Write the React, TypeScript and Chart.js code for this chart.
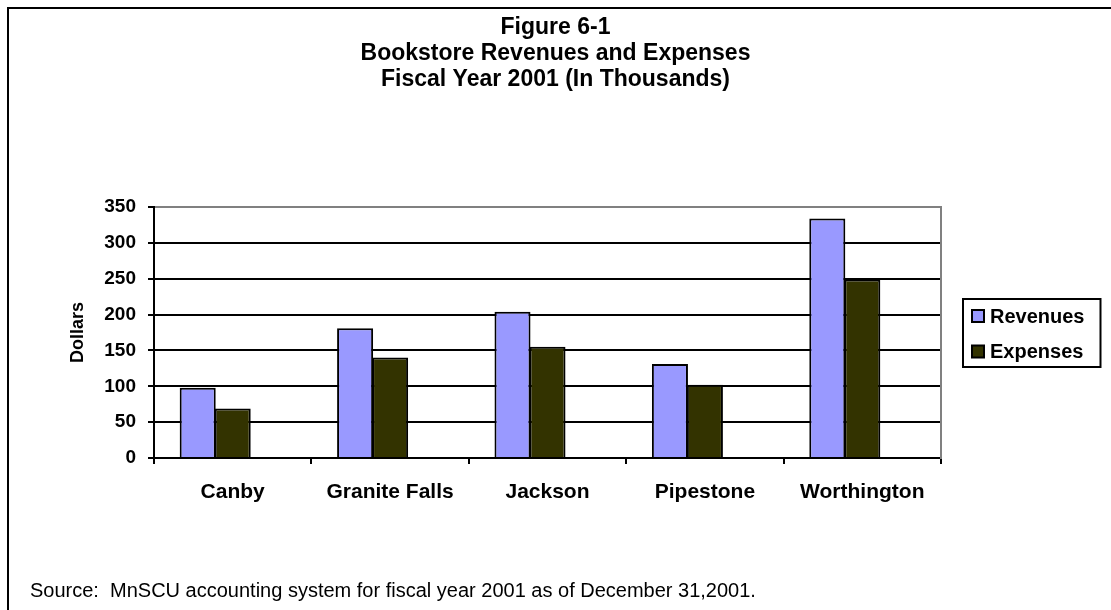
import React, { useEffect, useRef } from "react";
import { Chart, registerables } from "chart.js";

Chart.register(...registerables);

const TITLE_LINES = ["Figure 6-1", "Bookstore Revenues and Expenses", "Fiscal Year 2001 (In Thousands)"];
const CATEGORIES = ["Canby", "Granite Falls", "Jackson", "Pipestone", "Worthington"];
const REVENUES = [98, 181, 204, 131, 334];
const EXPENSES = [69, 140, 155, 102, 249];
const SERIES_NAMES = ["Revenues", "Expenses"];
const SERIES_COLORS = ["#9999FF", "#333300"];
const Y_TICKS = [0, 50, 100, 150, 200, 250, 300, 350];
const Y_TITLE = "Dollars";
const SOURCE = "Source:  MnSCU accounting system for fiscal year 2001 as of December 31,2001.";

const FONT = "'Liberation Sans', Arial, sans-serif";
Chart.defaults.font.family = FONT;
Chart.defaults.color = "#000";

const boxedLegend = {
  id: "boxedLegend",
  afterDraw(chart: any) {
    const { ctx, chartArea } = chart;
    const items = chart.data.datasets.filter((d: any) => !d.spacer);
    ctx.save();
    ctx.font = `bold 20px ${FONT}`;
    const textW = Math.max(...items.map((d: any) => ctx.measureText(d.label).width));
    const left = chartArea.right + 22;
    const height = 68;
    const top = Math.round((chartArea.top + chartArea.bottom) / 2 - height / 2);
    const width = 27 + textW + 16;
    ctx.lineWidth = 2;
    ctx.strokeStyle = "#000";
    ctx.strokeRect(left, top, width, height);
    items.forEach((d: any, i: number) => {
      const cy = top + 17 + i * 35.5;
      ctx.fillStyle = d.backgroundColor;
      ctx.fillRect(left + 9, cy - 6, 12, 12);
      ctx.strokeRect(left + 9, cy - 6, 12, 12);
      ctx.fillStyle = "#000";
      ctx.textBaseline = "middle";
      ctx.textAlign = "left";
      ctx.fillText(d.label, left + 27, cy + 1);
    });
    ctx.restore();
  },
};

export default function App() {
  const ref = useRef<HTMLCanvasElement>(null);
  useEffect(() => {
    const datasets: any[] = [REVENUES, EXPENSES].map((data, i) => ({
      label: SERIES_NAMES[i],
      data,
      backgroundColor: SERIES_COLORS[i],
      borderColor: "#000",
      borderWidth: 2,
      categoryPercentage: 0.667,
      barPercentage: 1.03,
    }));
    datasets.push({
      label: "",
      spacer: true,
      data: CATEGORIES.map(() => null),
      backgroundColor: "rgba(0,0,0,0)",
      borderWidth: 0,
      categoryPercentage: 0.667,
      barPercentage: 1.03,
    });
    const chart = new Chart(ref.current as HTMLCanvasElement, {
      type: "bar",
      data: { labels: CATEGORIES, datasets },
      plugins: [boxedLegend],
      options: {
        responsive: false,
        animation: false,
        layout: { padding: { left: 30, right: 30, top: 0, bottom: 0 } },
        plugins: {
          legend: { display: false },
          tooltip: { enabled: false },
          title: {
            display: true,
            text: TITLE_LINES,
            color: "#000",
            font: { family: FONT, size: 23, weight: "bold", lineHeight: 1.13 },
            padding: { top: 15, bottom: 207 - 15 - 3 * 23 * 1.13 },
          },
          subtitle: {
            display: true,
            position: "bottom",
            align: "start",
            text: SOURCE,
            color: "#000",
            font: { family: FONT, size: 20, weight: "normal", lineHeight: 1.2 },
            padding: { top: 60, bottom: 7 },
          },
        },
        scales: {
          x: {
            type: "category",
            offset: true,
            grid: {
              display: true,
              drawOnChartArea: false,
              drawTicks: true,
              tickLength: 6,
              color: "#000",
              lineWidth: 2,
              offset: true,
            },
            border: { display: true, color: "#000", width: 2 },
            ticks: {
              font: { family: FONT, size: 21, weight: "bold" },
              color: "#000",
              padding: 16,
              maxRotation: 0,
              autoSkip: false,
            },
            afterFit: (s: any) => {
              s.height = 610 - 458 - 7 - 60 - 24;
            },
          },
          y: {
            min: Y_TICKS[0],
            max: Y_TICKS[Y_TICKS.length - 1],
            ticks: {
              stepSize: Y_TICKS[1] - Y_TICKS[0],
              font: { family: FONT, size: 19, weight: "bold" },
              color: "#000",
              padding: 12,
            },
            grid: {
              color: (c: any) => (c.tick && c.tick.value === Y_TICKS[Y_TICKS.length - 1] ? "#808080" : "#000"),
              lineWidth: 2,
              tickLength: 6,
              tickColor: "#000",
              drawTicks: true,
            },
            border: { display: true, color: "#000", width: 2 },
            title: {
              display: true,
              text: Y_TITLE,
              color: "#000",
              font: { family: FONT, size: 18, weight: "bold" },
              padding: { top: 37, bottom: 0 },
            },
            afterFit: (s: any) => {
              s.width = 124;
            },
          },
          y2: {
            position: "right",
            min: Y_TICKS[0],
            max: Y_TICKS[Y_TICKS.length - 1],
            ticks: { display: false },
            grid: { drawOnChartArea: false, drawTicks: false },
            border: { display: true, color: "#808080", width: 2 },
            afterFit: (s: any) => {
              s.width = 140;
            },
          },
        },
      } as any,
    });
    return () => chart.destroy();
  }, []);

  return (
    <div style={{ position: "fixed", left: 0, top: 0, width: 1111, height: 610, overflow: "hidden", background: "#fff" }}>
      <div
        style={{
          position: "absolute",
          left: 7,
          top: 7,
          width: 1200,
          height: 700,
          border: "2px solid #000",
          boxSizing: "border-box",
        }}
      />
      <canvas
        ref={ref}
        width={1111}
        height={610}
        style={{ position: "absolute", left: 0, top: 0, width: 1111, height: 610 }}
      />
    </div>
  );
}
